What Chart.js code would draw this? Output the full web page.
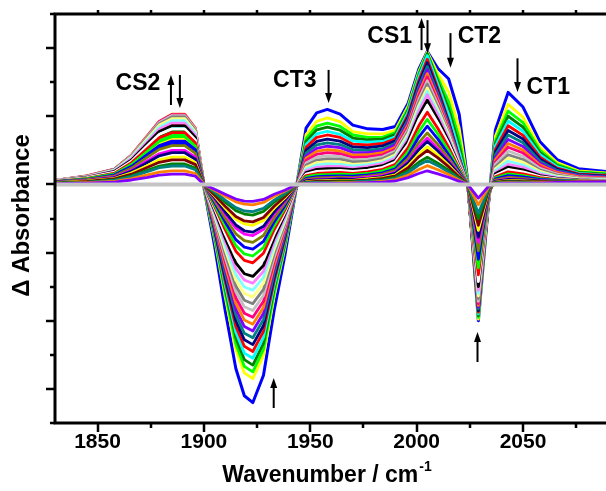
<!DOCTYPE html>
<html>
<head>
<meta charset="utf-8">
<script src="https://cdn.jsdelivr.net/npm/chart.js@4/dist/chart.umd.min.js"></script>
<style>
  body { margin: 0; background: #fff; }
  canvas { display: block; }
</style>
</head>
<body>
<canvas id="myChart" width="606" height="491"></canvas>
<script>
// wavenumber grid (cm-1)
var wavenumber = [1830,1845,1858,1866,1873,1879,1885,1891,1896,1900,1905,1910,1915,1919,1923,1928,1933,1938,1943,1948,1953,1958,1964,1970,1977,1984,1990,1996,2001,2005,2010,2015,2020,2024,2029,2034,2037,2043,2050,2058,2066,2076,2090];

// difference spectra, first (largest bleach) to last
var spec01 = [0.7,1.4,2.6,5,8.2,10.8,12,12,9.6, -1, -18,-37,-54,-62,-64,-56,-37,-21, -2.6, 16.5,21,22, 20.6,17.4,16.3,16.1,17,23.8,33.8,39, 34,31,20.6,1.2, -40, -4, 16,27,22.7,12.5,7.3,4.6,3.7];
var spec02 = [0.8,1.6,3,5.7,9.2,12.2,13.5,13.5,10.8, -1, -16,-33,-48.5,-55.3,-57,-50.2,-33,-18.8, -2.3, 14.6,18.5,19.5, 18.4,15.5,14.8,14.8,15.9,23,33.1,38.8, 32.4,27.2,16.5,0.8, -39.5, -4, 14.1,23.5,19.7,10.9,6.4,4,3.3];
var spec03 = [0.9,1.7,3.2,6.1,9.9,13,14.5,14.5,11.6, -0.5, -15.4,-31.9,-46.8,-53.4,-55,-48.4,-31.9,-18.2, -2.2, 13.5,17.1,18, 17,14.5,13.8,13.9,15.2,22.4,32.6,38.5, 31.1,24.3,13.4,0.5, -39, -3.9, 12.9,21.5,18.1,10,5.9,3.7,3.1];
var spec04 = [0.9,1.9,3.4,6.5,10.5,14,15.5,15.5,12.4, -0.5, -14.8,-30.7,-45,-51.4,-53,-46.6,-30.7,-17.5, -2.1, 12.6,16,16.8, 15.9,13.6,13.1,13.3,14.7,21.8,32,38.3, 30.2,22.2,11.3,0.3, -38.5, -3.9, 12,20,16.8,9.3,5.5,3.5,2.9];
var spec05 = [1,2,3.6,6.9,11.2,14.9,16.5,16.5,13.2, 0, -14.3,-29.6,-43.4,-49.5,-51,-44.9,-29.6,-16.8, -2, 11.7,14.8,15.6, 14.7,12.7,12.4,12.6,14,21.3,31.5,37.8, 29.3,20.6,9.6,0.2, -38, -3.8, 11.2,18.6,15.6,8.7,5.2,3.3,2.7];
var spec06 = [1.1,2.1,3.9,7.4,11.9,15.8,17.5,17.5,14, 0, -13.7,-28.4,-41.7,-47.5,-49,-43.1,-28.4,-16.2, -2, 10.9,13.8,14.5, 13.8,11.8,11.6,12,13.4,20.5,30.5,36.7, 28.1,18.7,7.9,0, -37.5, -3.8, 10.3,17.2,14.4,8,4.8,3.1,2.6];
var spec07 = [1.1,2.2,4.1,7.8,12.6,16.7,18.5,18.5,14.8, 0, -13.2,-27.3,-40,-45.6,-47,-41.4,-27.3,-15.5, -1.9, 10,12.6,13.3, 12.7,11,10.8,11.3,12.8,19.8,29.6,35.7, 27.3,18.2,7.7,0, -37, -3.7, 9.5,15.8,13.3,7.4,4.5,2.9,2.4];
var spec08 = [1.2,2.3,4.3,8.2,13.3,17.6,19.5,19.5,15.6, 0, -12.6,-26.1,-38.3,-43.7,-45,-39.6,-26.1,-14.9, -1.8, 9.2,11.6,12.2, 11.7,10.2,10,10.5,12.1,19.1,28.7,34.6, 26.5,17.7,7.5,0, -36.5, -3.7, 8.7,14.5,12.2,6.8,4.1,2.7,2.2];
var spec09 = [1.2,2.4,4.5,8.5,13.8,18.3,20.3,20.3,16.2, 0, -12,-24.9,-36.6,-41.7,-43,-37.8,-24.9,-14.2, -1.7, 8.4,10.6,11.2, 10.8,9.4,9.3,9.9,11.6,18.3,27.7,33.6, 25.7,17.2,7.3,0, -36, -3.6, 7.9,13.2,11.1,6.2,3.8,2.5,2.1];
var spec10 = [1.2,2.5,4.5,8.7,14,18.5,20.6,20.6,16.5, 0, -11.5,-23.8,-34.9,-39.8,-41,-36.1,-23.8,-13.5, -1.6, 7.7,9.7,10.2, 9.8,8.6,8.7,9.3,10.9,17.6,26.8,32.5, 25,16.6,7,0, -35.5, -3.6, 7.2,12,10.1,5.7,3.5,2.3,1.9];
var spec11 = [1.2,2.5,4.5,8.6,13.9,18.5,20.5,20.5,16.4, 0, -10.9,-22.6,-33.2,-37.8,-39,-34.3,-22.6,-12.9, -1.6, 7,8.8,9.3, 9,7.9,8.1,8.7,10.3,16.9,25.9,31.5, 24.2,16.1,6.8,0, -35, -3.5, 6.5,10.9,9.2,5.2,3.2,2.1,1.8];
var spec12 = [1.2,2.4,4.4,8.5,13.7,18.2,20.2,20.2,16.2, 0, -10.4,-21.5,-31.5,-35.9,-37,-32.6,-21.5,-12.2, -1.5, 6.3,8,8.4, 8.2,7.2,7.4,8.1,9.8,16.2,25,30.4, 23.4,15.6,6.6,0, -34.3, -3.4, 5.9,9.8,8.2,4.7,3,2,1.7];
var spec13 = [1.2,2.4,4.4,8.3,13.5,17.8,19.8,19.8,15.8, 0, -9.8,-20.3,-29.8,-34,-35,-30.8,-20.3,-11.6, -1.4, 5.6,7.1,7.5, 7.4,6.6,6.8,7.6,9.3,15.5,24.1,29.4, 22.6,15.1,6.4,0, -33.5, -3.4, 5.2,8.7,7.3,4.2,2.7,1.8,1.5];
var spec14 = [1.2,2.3,4.2,8.1,13.1,17.4,19.3,19.3,15.4, 0, -9.2,-19.1,-28.1,-32,-33,-29,-19.1,-10.9, -1.3, 5,6.4,6.7, 6.6,5.9,6.2,7,8.7,14.9,23.2,28.3, 21.8,14.6,6.2,0, -32.7, -3.3, 4.6,7.7,6.5,3.8,2.4,1.7,1.4];
var spec15 = [1.1,2.2,4.1,7.9,12.7,16.8,18.7,18.7,15, 0, -8.7,-18,-26.4,-30.1,-31,-27.3,-18,-10.2, -1.2, 4.5,5.7,6, 5.9,5.4,5.8,6.5,8.2,14.2,22.3,27.3, 21.1,14,5.9,0, -32, -3.2, 4.1,6.8,5.7,3.4,2.2,1.5,1.3];
var spec16 = [1.1,2.2,4,7.6,12.2,16.2,18,18,14.4, 0, -8.1,-16.8,-24.7,-28.1,-29,-25.5,-16.8,-9.6, -1.2, 4,5,5.3, 5.3,4.8,5.3,6.1,7.7,13.5,21.4,26.3, 20.3,13.5,5.7,0, -31, -3.1, 3.5,5.9,5,3,2,1.4,1.2];
var spec17 = [1,2.1,3.8,7.2,11.7,15.5,17.2,17.2,13.8, 0, -7.6,-15.7,-23,-26.2,-27,-23.8,-15.7,-8.9, -1.1, 3.5,4.4,4.6, 4.6,4.3,4.8,5.5,7.1,12.7,20.2,24.7, 19.1,12.7,5.4,0, -30, -3, 3.1,5.1,4.3,2.6,1.8,1.3,1.1];
var spec18 = [1,2,3.6,6.8,11.1,14.7,16.3,16.3,13, 0, -7,-14.5,-21.3,-24.3,-25,-22,-14.5,-8.3, -1, 3,3.8,4, 4.1,3.8,4.2,5,6.6,11.8,18.9,23.2, 17.9,12,5.1,0, -28.5, -2.9, 2.6,4.4,3.7,2.3,1.6,1.2,1];
var spec19 = [0.9,1.8,3.3,6.4,10.3,13.7,15.2,15.2,12.2, 0, -6.4,-13.3,-19.6,-22.3,-23,-20.2,-13.3,-7.6, -0.9, 2.6,3.2,3.4, 3.5,3.2,3.7,4.4,5.9,10.8,17.2,21.2, 16.4,10.9,4.6,0, -26.5, -2.7, 2.2,3.7,3.1,2,1.4,1.1,0.9];
var spec20 = [0.8,1.7,3.1,5.9,9.5,12.6,14,14,11.2, 0, -5.9,-12.2,-17.9,-20.4,-21,-18.5,-12.2,-6.9, -0.8, 2.2,2.8,2.9, 3,2.9,3.2,4,5.3,9.6,15.5,19.1, 14.8,9.9,4.2,0, -24.5, -2.5, 1.9,3.1,2.6,1.7,1.3,1,0.9];
var spec21 = [0.8,1.5,2.8,5.3,8.6,11.4,12.7,12.7,10.2, 0, -5.3,-11,-16.2,-18.4,-19,-16.7,-11,-6.3, -0.8, 1.8,2.3,2.4, 2.5,2.4,2.8,3.4,4.6,8.6,13.9,17.1, 13.3,8.8,3.7,0, -22, -2.2, 1.6,2.6,2.2,1.5,1.2,0.9,0.8];
var spec22 = [0.7,1.4,2.5,4.8,7.8,10.3,11.4,11.4,9.1, 0, -4.8,-9.9,-14.5,-16.5,-17,-15,-9.9,-5.6, -0.7, 1.5,1.9,2, 2.1,2,2.4,3,4.1,7.6,12.2,15.1, 11.7,7.8,3.3,0, -19.5, -2, 1.3,2.1,1.8,1.2,1,0.8,0.8];
var spec23 = [0.6,1.2,2.2,4.2,6.8,9,10,10,8, 0, -4.2,-8.7,-12.8,-14.6,-15,-13.2,-8.7,-5, -0.6, 1.2,1.5,1.6, 1.7,1.7,2.1,2.6,3.6,6.7,11,13.6, 10.5,7,3,0, -17, -1.7, 1,1.7,1.4,1.1,0.9,0.8,0.7];
var spec24 = [0.6,1.1,2,3.9,6.3,8.4,9.3,9.3,7.4, 0, -3.9,-8.1,-11.9,-13.6,-14,-12.3,-8.1,-4.6, -0.6, 1.1,1.3,1.4, 1.6,1.5,1.8,2.3,3.3,6.3,10.2,12.6, 9.8,6.5,2.8,0, -15.5, -1.6, 0.9,1.5,1.3,1,0.9,0.7,0.7];
var spec25 = [0.5,1,1.8,3.4,5.4,7.2,8,8,6.4, 0, -3.4,-7,-10.2,-11.6,-12,-10.6,-7,-4, -0.5, 0.8,1,1.1, 1.2,1.2,1.6,2,2.8,5.5,8.9,11.1, 8.6,5.7,2.4,0, -13.5, -1.4, 0.7,1.2,1,0.8,0.8,0.7,0.6];
var spec26 = [0.4,0.9,1.6,3,4.9,6.5,7.2,7.2,5.8, 0, -3.1,-6.4,-9.4,-10.7,-11,-9.7,-6.4,-3.6, -0.4, 0.7,0.9,0.9, 1,1,1.3,1.8,2.5,4.9,8.1,10, 7.8,5.2,2.2,0, -12, -1.2, 0.6,1,0.8,0.8,0.8,0.7,0.6];
var spec27 = [0.4,0.7,1.3,2.5,4.1,5.4,6,6,4.8, 0, -2.5,-5.2,-7.7,-8.7,-9,-7.9,-5.2,-3, -0.4, 0.5,0.7,0.7, 0.8,0.8,1,1.4,2.1,4,6.5,8, 6.2,4.2,1.8,0, -10, -1, 0.5,0.8,0.7,0.7,0.7,0.6,0.6];
var spec28 = [0.3,0.6,1.2,2.3,3.7,4.9,5.4,5.4,4.3, 0, -2.2,-4.6,-6.8,-7.8,-8,-7,-4.6,-2.6, -0.3, 0.5,0.6,0.6, 0.6,0.7,1,1.2,1.7,3.5,5.7,7, 5.5,3.6,1.5,0, -8.5, -0.9, 0.4,0.7,0.6,0.6,0.7,0.6,0.6];
var spec29 = [0.2,0.5,0.9,1.7,2.7,3.6,4,4,3.2, 0, -1.7,-3.5,-5.1,-5.8,-6,-5.3,-3.5,-2, -0.2, 0.3,0.4,0.4, 0.5,0.5,0.6,0.9,1.4,2.7,4.4,5.5, 4.3,2.9,1.2,0, -6, -0.6, 0.3,0.5,0.4,0.5,0.6,0.6,0.6];
var spec30 = [0.2,0.4,0.7,1.3,2,2.7,3,3,2.4, 0, -1.4,-2.9,-4.3,-4.9,-5,-4.4,-2.9,-1.7, -0.2, 0.2,0.3,0.3, 0.3,0.4,0.5,0.7,1,2,3.2,4, 3.1,2.1,0.9,0, -4, -0.4, 0.2,0.4,0.3,0.4,0.6,0.6,0.6];
var baseline = [0,0,0,0,0,0,0,0,0,0,0,0,0,0,0,0,0,0,0,0,0,0,0,0,0,0,0,0,0,0,0,0,0,0,0,0,0,0,0,0,0,0,0];

var colors = ["#0000ff","#ffff00","#00ff00","#008000","#00ffff","#ff0000","#000080","#008080","#8000ff","#ff8000",
              "#ff0080","#c0c0c0","#808080","#ffff80","#80ffff","#ff80ff","#000000","#ffffff","#ff0000","#00ff00",
              "#0000ff","#808000","#ff00ff","#000080","#ffff00","#800000","#008000","#008080","#ff8000","#8000ff"];

// axis ticks
var xMajor = [1850,1900,1950,2000,2050];
var xMinor = [1875,1925,1975,2025,2075];
var yMajor = [-60,-40,-20,0,20,40];
var yMinor = [-70,-50,-30,-10,10,30,50];

// band labels and arrows (data units)
var bandNames = ["CS2","CT3","CS1","CT2","CT1"];
var bandX = [1869,1942.7,1987.3,2029.5,2061.9];
var bandY = [29.7,30.3,43.3,43.3,28.4];
var arrowX  = [1884.5,1888.7,1958.6,2002.3,2005.1,2015.9,2047.4,1932.8,2028.6];
var arrowY0 = [23.3,32.1,33.6,39.4,48.2,44.4,37,-65.6,-52.1];
var arrowY1 = [32.1,22.4,23.9,48.8,38.5,34.2,27.1,-56.8,-43.3];

var spectra = [spec01,spec02,spec03,spec04,spec05,spec06,spec07,spec08,spec09,spec10,
               spec11,spec12,spec13,spec14,spec15,spec16,spec17,spec18,spec19,spec20,
               spec21,spec22,spec23,spec24,spec25,spec26,spec27,spec28,spec29,spec30];

function pts(arr) {
    return arr.map(function (v, i) { return {x: wavenumber[i], y: v}; });
}

var datasets = [{
    data: pts(baseline),
    borderColor: "#c4c4c4",
    borderWidth: 4,
    order: -1
}];
spectra.forEach(function (s, k) {
    datasets.push({
        data: pts(s),
        borderColor: colors[k],
        borderWidth: k == 0 ? 3 : 2.8,
        order: 30 - k
    });
});

var FONT = '"Liberation Sans", Arial, sans-serif';

var decor = {
    id: "decor",
    afterDatasetsDraw: function (chart) {
        var ctx = chart.ctx, a = chart.chartArea;
        var xs = chart.scales.x, ys = chart.scales.y;
        ctx.save();
        ctx.strokeStyle = "#000";
        ctx.fillStyle = "#000";
        ctx.lineWidth = 3;
        ctx.lineCap = "butt";

        // frame
        ctx.beginPath();
        ctx.moveTo(a.left - 1.5, a.top); ctx.lineTo(a.right, a.top);
        ctx.moveTo(a.left, a.top); ctx.lineTo(a.left, a.bottom);
        ctx.moveTo(a.left - 1.5, a.bottom); ctx.lineTo(a.right, a.bottom);
        ctx.stroke();

        // ticks
        ctx.lineWidth = 2.5;
        ctx.beginPath();
        xMajor.forEach(function (v) {
            var px = Math.round(xs.getPixelForValue(v));
            ctx.moveTo(px, a.bottom); ctx.lineTo(px, a.bottom + 9);
            ctx.moveTo(px, a.top); ctx.lineTo(px, a.top - 4);
        });
        xMinor.forEach(function (v) {
            var px = Math.round(xs.getPixelForValue(v));
            ctx.moveTo(px, a.bottom); ctx.lineTo(px, a.bottom + 5);
            ctx.moveTo(px, a.top); ctx.lineTo(px, a.top - 4);
        });
        yMajor.forEach(function (v) {
            var py = Math.round(ys.getPixelForValue(v));
            ctx.moveTo(a.left, py); ctx.lineTo(a.left - 9, py);
        });
        yMinor.forEach(function (v) {
            var py = Math.round(ys.getPixelForValue(v));
            ctx.moveTo(a.left, py); ctx.lineTo(a.left - 5, py);
        });
        ctx.stroke();

        // tick labels
        ctx.font = "bold 21px " + FONT;
        ctx.textAlign = "center";
        ctx.textBaseline = "middle";
        xMajor.forEach(function (v) {
            ctx.fillText(String(v), xs.getPixelForValue(v), a.bottom + 19);
        });

        // x title with superscript
        var main = "Wavenumber / cm", sup = "-1";
        ctx.font = "bold 23px " + FONT;
        var w1 = ctx.measureText(main).width;
        ctx.font = "bold 14px " + FONT;
        var w2 = ctx.measureText(sup).width;
        var cx = (a.left + a.right) / 2 - 4;
        var x0 = cx - (w1 + w2) / 2;
        ctx.textAlign = "left";
        ctx.textBaseline = "alphabetic";
        ctx.font = "bold 23px " + FONT;
        ctx.fillText(main, x0, a.bottom + 59);
        ctx.font = "bold 14px " + FONT;
        ctx.fillText(sup, x0 + w1 + 1, a.bottom + 48);

        // y title
        ctx.save();
        ctx.translate(22, (a.top + a.bottom) / 2 - 3);
        ctx.rotate(-Math.PI / 2);
        ctx.font = "bold 24px " + FONT;
        ctx.textAlign = "center";
        ctx.textBaseline = "middle";
        ctx.fillText("\u0394 Absorbance", 0, 0);
        ctx.restore();

        // band labels
        ctx.font = "bold 23px " + FONT;
        ctx.textAlign = "center";
        ctx.textBaseline = "middle";
        bandNames.forEach(function (t, i) {
            ctx.fillText(t, xs.getPixelForValue(bandX[i]), ys.getPixelForValue(bandY[i]));
        });

        // arrows
        ctx.lineWidth = 2;
        arrowX.forEach(function (v, i) {
            var px = xs.getPixelForValue(v);
            var p0 = ys.getPixelForValue(arrowY0[i]);
            var p1 = ys.getPixelForValue(arrowY1[i]);
            var dir = p1 < p0 ? -1 : 1;
            ctx.beginPath();
            ctx.moveTo(px, p0);
            ctx.lineTo(px, p1 - dir * 8);
            ctx.stroke();
            ctx.beginPath();
            ctx.moveTo(px, p1);
            ctx.lineTo(px - 3.5, p1 - dir * 10);
            ctx.lineTo(px + 3.5, p1 - dir * 10);
            ctx.closePath();
            ctx.fill();
        });
        ctx.restore();
    }
};

new Chart("myChart", {
    type: "line",
    data: { datasets: datasets },
    options: {
        responsive: false,
        animation: false,
        devicePixelRatio: 1,
        layout: { padding: { left: 55, top: 14, right: 0, bottom: 68 } },
        plugins: { legend: { display: false }, tooltip: { enabled: false } },
        elements: {
            point: { radius: 0 },
            line: { tension: 0, borderJoinStyle: "round", fill: false }
        },
        scales: {
            x: { type: "linear", min: 1830, max: 2089, display: false },
            y: { min: -70, max: 50, display: false }
        }
    },
    plugins: [decor]
});
</script>
</body>
</html>
